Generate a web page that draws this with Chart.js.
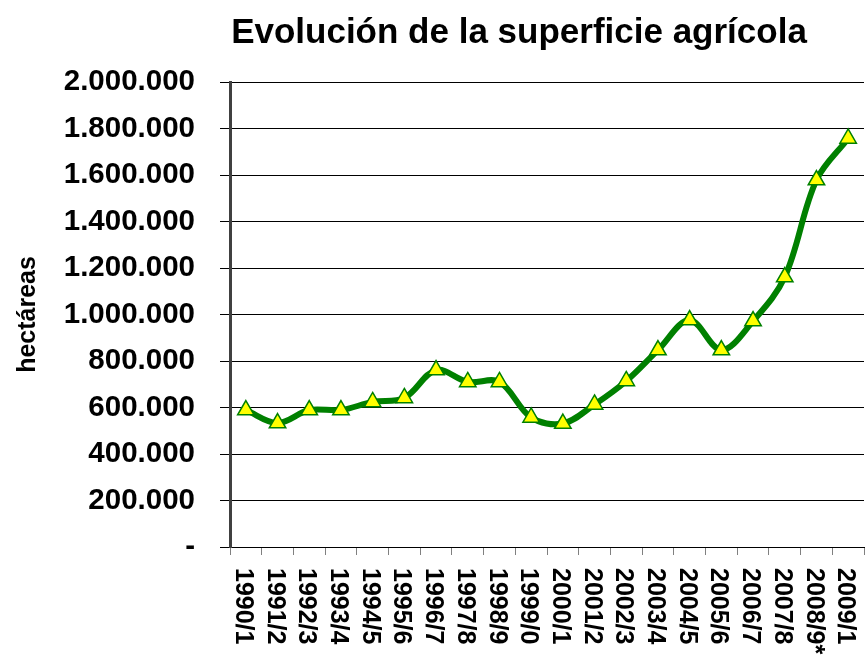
<!DOCTYPE html>
<html lang="es">
<head>
<meta charset="utf-8">
<title>Evolución de la superficie agrícola</title>
<script src="https://cdn.jsdelivr.net/npm/chart.js@4.4.1/dist/chart.umd.min.js"></script>
<style>
  html, body { margin: 0; padding: 0; background: #fff; overflow: hidden; }
  #wrap { position: relative; width: 875px; height: 658px; }
</style>
</head>
<body>
<div id="wrap"><canvas id="chart" width="875" height="658"></canvas></div>
<script>
// campañas agrícolas (eje x)
const campanas = [
    '1990/1', '1991/2', '1992/3', '1993/4', '1994/5', '1995/6', '1996/7',
    '1997/8', '1998/9', '1999/0', '2000/1', '2001/2', '2002/3', '2003/4',
    '2004/5', '2005/6', '2006/7', '2007/8', '2008/9*', '2009/1'
];
// superficie en hectáreas
const superficie = [
    589000, 533000, 589000, 589000, 624000, 641000, 761000,
    710000, 710000, 557000, 531000, 613000, 714000, 847000,
    976000, 847000, 972000, 1161000, 1578000, 1757000
];
const titulo = 'Evolución de la superficie agrícola';
const tituloEje = 'hectáreas';
const yMin = 0;
const yMax = 2000000;
const yPaso = 200000;

const FUENTE = '"Liberation Sans", Arial, Helvetica, sans-serif';

// 1.800.000 style, cero como guion
function miles(v) {
    if (v === 0) return '-';
    return String(v).replace(/\B(?=(\d{3})+(?!\d))/g, '.');
}

const tituloPlugin = {
    id: 'tituloPlugin',
    afterDraw(chart) {
        const ctx = chart.ctx;
        ctx.save();
        ctx.font = 'bold 35px ' + FUENTE;
        ctx.fillStyle = '#000';
        ctx.textAlign = 'center';
        ctx.textBaseline = 'alphabetic';
        ctx.fillText(titulo, 519, 43);
        ctx.restore();
    }
};

// etiquetas del eje x giradas 90° en sentido horario (se leen de arriba abajo)
const etiquetasX = {
    id: 'etiquetasX',
    afterDraw(chart) {
        const ctx = chart.ctx;
        const xs = chart.scales.x;
        ctx.save();
        ctx.font = 'bold 25px ' + FUENTE;
        ctx.fillStyle = '#000';
        campanas.forEach((c, i) => {
            const x = xs.getPixelForValue(i);
            ctx.save();
            ctx.translate(x - 3, xs.top + 21);
            ctx.rotate(Math.PI / 2);
            ctx.textAlign = 'left';
            ctx.textBaseline = 'middle';
            ctx.fillText(c, 0, 0);
            ctx.restore();
        });
        ctx.restore();
    }
};

new Chart(document.getElementById('chart'), {
    type: 'line',
    data: {
        labels: campanas,
        datasets: [{
            data: superficie,
            borderColor: '#008000',
            borderWidth: 6,
            tension: 0.35,
            fill: false,
            pointStyle: 'triangle',
            pointRadius: 9.5,
            pointBackgroundColor: '#ffff00',
            pointBorderColor: '#008000',
            pointBorderWidth: 1.5
        }]
    },
    options: {
        responsive: false,
        animation: false,
        layout: { padding: { top: 82, right: 7, bottom: 0, left: 0 } },
        plugins: {
            legend: { display: false },
            tooltip: { enabled: false },
            title: { display: false }
        },
        scales: {
            x: {
                offset: true,
                ticks: { display: false },
                grid: {
                    drawOnChartArea: false,
                    drawTicks: true,
                    tickLength: 8,
                    color: '#808080',
                    offset: true
                },
                border: { color: '#000', width: 1 },
                afterFit(s) { s.height = 111; }
            },
            y: {
                min: yMin,
                max: yMax,
                ticks: {
                    stepSize: yPaso,
                    callback: miles,
                    color: '#000',
                    padding: 25,
                    font: { family: FUENTE, size: 29.5, weight: 'bold' }
                },
                grid: { color: '#000', lineWidth: 1, tickLength: 10, drawTicks: true },
                border: { color: '#404040', width: 3 },
                title: {
                    display: true,
                    text: tituloEje,
                    color: '#000',
                    font: { family: FUENTE, size: 25, weight: 'bold' },
                    padding: { top: 13, bottom: 0 }
                },
                afterFit(s) { s.width = 230; }
            }
        }
    },
    plugins: [tituloPlugin, etiquetasX]
});
</script>
</body>
</html>
